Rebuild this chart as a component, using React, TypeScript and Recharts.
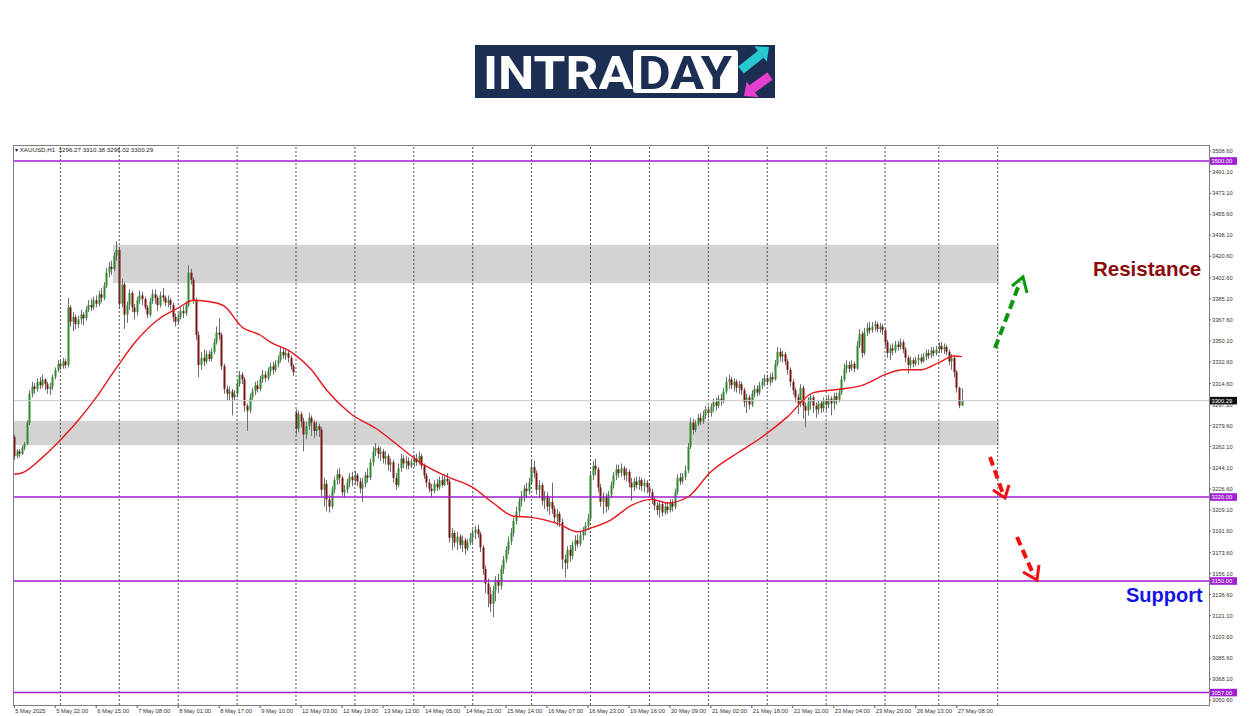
import React from 'react';
import { ComposedChart, Bar, Line, XAxis, YAxis, ReferenceLine, ReferenceArea } from 'recharts';

// XAUUSD H1, 5 May 2025 - 27 May 2025, one row per trading day
const closes = [
  3254, 3258, 3256, 3261, 3264, 3282, 3306, 3312, 3310, 3316, 3313, 3318, 3314, 3310, 3312, 3320, 3326, 3331,
  3329, 3333, 3330, 3378, 3366, 3370, 3364, 3368, 3372, 3369, 3376, 3380, 3378, 3384, 3381, 3389, 3386, 3396, 3407, 3412, 3410, 3421, 3426,
  3381, 3397, 3372, 3380, 3390, 3378, 3374, 3384, 3388, 3385, 3378, 3372, 3383, 3389, 3386, 3380, 3388, 3386, 3382, 3384, 3380, 3370, 3366,
  3370, 3375, 3373, 3380, 3407, 3401, 3384, 3355, 3330, 3336, 3333, 3339, 3335, 3341, 3349, 3357, 3355, 3329, 3310, 3306, 3308, 3303, 3306,
  3314, 3322, 3318, 3296, 3292, 3303, 3308, 3313, 3310, 3318, 3322, 3319, 3325, 3329, 3326, 3331, 3334, 3341, 3338, 3340, 3336, 3329, 3324,
  3277, 3289, 3283, 3272, 3279, 3286, 3282, 3275, 3279, 3276, 3226, 3231, 3218, 3212, 3226, 3234, 3239, 3236, 3224, 3226, 3232, 3237, 3234,
  3238, 3233, 3227, 3231, 3238, 3236, 3249, 3258, 3261, 3256, 3258, 3252, 3254, 3247, 3249, 3236, 3230, 3244, 3252, 3248, 3250, 3246, 3249,
  3252, 3249, 3254, 3246, 3238, 3232, 3227, 3225, 3231, 3228, 3234, 3230, 3235, 3233, 3186, 3190, 3182, 3187, 3180, 3184, 3177, 3182, 3186,
  3190, 3193, 3189, 3178, 3160, 3148, 3139, 3131, 3142, 3151, 3146, 3160, 3168, 3176, 3183, 3190, 3200, 3208, 3217, 3220, 3227, 3225, 3232,
  3245, 3240, 3226, 3230, 3217, 3221, 3212, 3216, 3210, 3203, 3206, 3199, 3168, 3165, 3176, 3171, 3180, 3184, 3181, 3188, 3192, 3196, 3202,
  3238, 3246, 3243, 3228, 3216, 3220, 3212, 3222, 3230, 3238, 3243, 3240, 3244, 3238, 3241, 3232, 3228, 3233, 3230, 3234, 3229, 3232, 3228,
  3224, 3218, 3213, 3209, 3214, 3207, 3212, 3209, 3215, 3212, 3224, 3236, 3233, 3237, 3242, 3262, 3282, 3276, 3281, 3286, 3283, 3288, 3293,
  3290, 3295, 3299, 3296, 3302, 3300, 3308, 3316, 3318, 3313, 3316, 3311, 3314, 3309, 3299, 3303, 3297, 3306, 3310, 3307, 3313, 3316, 3319,
  3316, 3320, 3318, 3331, 3341, 3337, 3339, 3333, 3326, 3316, 3309, 3303, 3298, 3311, 3296, 3292, 3299, 3303, 3296, 3293, 3298, 3294, 3300,
  3297, 3302, 3298, 3304, 3301, 3307, 3318, 3327, 3330, 3327, 3331, 3327, 3346, 3356, 3340, 3357, 3361, 3359, 3362, 3364, 3360, 3362, 3359,
  3349, 3340, 3344, 3342, 3347, 3345, 3349, 3343, 3336, 3330, 3334, 3331, 3334, 3336, 3333, 3337, 3340, 3338, 3342, 3340, 3343,
  3346, 3343, 3345, 3341, 3333, 3336, 3324, 3311, 3296.27, 3300.29,
];

const highs = [
  3272, 3260, 3260, 3263, 3266, 3284, 3309, 3316, 3315, 3319, 3320, 3322, 3319, 3316, 3315, 3322, 3328, 3334,
  3334, 3336, 3335, 3386, 3380, 3374, 3372, 3371, 3376, 3374, 3379, 3384, 3385, 3387, 3388, 3392, 3394, 3399, 3411, 3416, 3417, 3424, 3433,
  3428, 3402, 3399, 3383, 3393, 3392, 3381, 3387, 3392, 3391, 3387, 3380, 3386, 3393, 3393, 3388, 3391, 3394, 3388, 3388, 3386, 3382, 3373,
  3373, 3378, 3379, 3383, 3413, 3410, 3403, 3386, 3358, 3341, 3343, 3342, 3342, 3344, 3352, 3362, 3369, 3357, 3331, 3313, 3312, 3310, 3309,
  3317, 3325, 3324, 3320, 3298, 3306, 3311, 3316, 3317, 3321, 3326, 3325, 3328, 3332, 3333, 3334, 3338, 3345, 3344, 3343, 3342, 3338, 3331,
  3293, 3292, 3291, 3286, 3283, 3290, 3288, 3284, 3283, 3281, 3278, 3236, 3234, 3222, 3229, 3237, 3243, 3244, 3238, 3230, 3235, 3240, 3241,
  3242, 3240, 3236, 3236, 3241, 3244, 3252, 3262, 3265, 3263, 3262, 3260, 3258, 3256, 3252, 3251, 3240, 3248, 3256, 3255, 3254, 3253, 3252,
  3255, 3256, 3258, 3256, 3248, 3240, 3235, 3231, 3234, 3235, 3237, 3238, 3239, 3240, 3235, 3194, 3192, 3191, 3189, 3188, 3186, 3185, 3190,
  3193, 3196, 3197, 3191, 3180, 3163, 3152, 3145, 3146, 3154, 3156, 3163, 3171, 3179, 3187, 3194, 3203, 3212, 3220, 3225, 3230, 3232, 3236,
  3251, 3250, 3242, 3234, 3232, 3225, 3224, 3220, 3232, 3213, 3210, 3208, 3202, 3172, 3179, 3180, 3183, 3188, 3189, 3191, 3195, 3199, 3206,
  3241, 3250, 3252, 3245, 3231, 3224, 3223, 3225, 3233, 3241, 3247, 3247, 3248, 3246, 3244, 3243, 3236, 3236, 3237, 3237, 3236, 3235, 3234,
  3231, 3227, 3221, 3216, 3217, 3216, 3215, 3216, 3218, 3218, 3227, 3239, 3240, 3240, 3246, 3265, 3286, 3285, 3284, 3289, 3290, 3292, 3296,
  3296, 3298, 3302, 3303, 3305, 3306, 3311, 3320, 3322, 3320, 3319, 3318, 3317, 3316, 3311, 3306, 3305, 3309, 3313, 3313, 3316, 3319, 3322,
  3322, 3323, 3324, 3334, 3345, 3344, 3342, 3341, 3335, 3328, 3318, 3311, 3306, 3314, 3313, 3299, 3303, 3306, 3305, 3299, 3301, 3300, 3303,
  3303, 3305, 3304, 3307, 3307, 3310, 3321, 3331, 3334, 3333, 3334, 3333, 3350, 3360, 3358, 3361, 3365, 3366, 3366, 3367, 3366, 3365, 3364,
  3361, 3351, 3347, 3348, 3350, 3350, 3352, 3351, 3345, 3338, 3337, 3336, 3337, 3339, 3339, 3340, 3343, 3343, 3345, 3345, 3346,
  3349, 3349, 3348, 3347, 3343, 3339, 3337, 3326, 3312, 3310.38,
];

const lows = [
  3251, 3252, 3253, 3255, 3259, 3263, 3280, 3303, 3306, 3308, 3310, 3311, 3309, 3306, 3305, 3309, 3318, 3324,
  3326, 3327, 3327, 3328, 3362, 3358, 3360, 3361, 3364, 3363, 3367, 3374, 3375, 3376, 3378, 3379, 3382, 3384, 3394, 3403, 3405, 3408, 3417,
  3377, 3378, 3360, 3365, 3376, 3374, 3368, 3371, 3381, 3380, 3376, 3369, 3370, 3381, 3381, 3375, 3378, 3383, 3379, 3378, 3376, 3366, 3362,
  3364, 3368, 3369, 3371, 3378, 3397, 3381, 3351, 3320, 3326, 3329, 3331, 3333, 3333, 3339, 3347, 3351, 3326, 3306, 3301, 3300, 3288, 3300,
  3303, 3312, 3314, 3291, 3275, 3290, 3300, 3305, 3307, 3308, 3315, 3316, 3317, 3321, 3322, 3324, 3328, 3332, 3335, 3334, 3332, 3326, 3321,
  3272, 3274, 3278, 3258, 3268, 3276, 3271, 3269, 3271, 3270, 3221, 3212, 3208, 3207, 3210, 3223, 3230, 3231, 3221, 3220, 3223, 3228, 3229,
  3230, 3229, 3223, 3216, 3228, 3232, 3234, 3246, 3254, 3252, 3250, 3248, 3247, 3242, 3241, 3232, 3226, 3228, 3241, 3244, 3243, 3243, 3244,
  3245, 3246, 3247, 3243, 3235, 3228, 3224, 3220, 3223, 3225, 3226, 3228, 3229, 3230, 3182, 3176, 3178, 3176, 3177, 3174, 3172, 3175, 3180,
  3181, 3185, 3186, 3174, 3155, 3140, 3128, 3124, 3120, 3133, 3140, 3143, 3156, 3165, 3172, 3180, 3187, 3197, 3204, 3212, 3216, 3219, 3222,
  3230, 3236, 3222, 3219, 3213, 3210, 3208, 3205, 3206, 3198, 3196, 3195, 3160, 3153, 3160, 3166, 3168, 3175, 3178, 3179, 3184, 3188, 3192,
  3203, 3234, 3238, 3224, 3212, 3206, 3207, 3209, 3219, 3227, 3234, 3236, 3237, 3234, 3233, 3228, 3217, 3225, 3227, 3226, 3225, 3224, 3223,
  3220, 3214, 3209, 3205, 3203, 3204, 3205, 3206, 3207, 3208, 3210, 3222, 3230, 3231, 3234, 3240, 3260, 3272, 3274, 3279, 3280, 3281, 3285,
  3286, 3287, 3291, 3292, 3294, 3296, 3298, 3306, 3310, 3310, 3308, 3307, 3306, 3305, 3295, 3290, 3293, 3295, 3303, 3304, 3305, 3310, 3312,
  3313, 3313, 3315, 3317, 3329, 3333, 3332, 3330, 3322, 3312, 3305, 3299, 3289, 3295, 3285, 3278, 3288, 3293, 3290, 3286, 3289, 3290, 3291,
  3292, 3294, 3288, 3293, 3297, 3299, 3305, 3316, 3323, 3324, 3325, 3324, 3326, 3344, 3336, 3338, 3354, 3356, 3357, 3358, 3357, 3357, 3355,
  3345, 3336, 3334, 3338, 3340, 3342, 3343, 3340, 3332, 3323, 3327, 3328, 3329, 3330, 3331, 3332, 3334, 3335, 3336, 3337, 3338,
  3340, 3340, 3339, 3338, 3330, 3326, 3320, 3307, 3294, 3296.02,
];

// opens follow the previous close, except the first bar and the weekend gap
const firstOpen = 3270;
const gapOpens = [[110, 3290], [369, 3311]];

// red moving average as [bar, price]
const maPoints = [
  [0, 3239], [3, 3240], [11, 3253], [18, 3267.5], [25, 3284], [32, 3303], [40, 3328], [48, 3351], [56, 3367.5],
  [64, 3377.5], [70, 3384], [77, 3382.5], [82, 3379], [89, 3361.5], [96, 3355], [100, 3349], [108, 3341], [116, 3326],
  [122, 3309], [131, 3290], [142, 3276], [151, 3261], [159, 3248], [169, 3237], [179, 3228], [187, 3215], [195, 3204],
  [202, 3203], [212, 3198], [220, 3191], [225, 3194], [233, 3201], [241, 3213], [249, 3218], [255, 3215], [263, 3220],
  [272, 3241], [283, 3257.5], [292, 3270], [302, 3287], [312, 3307], [323, 3310], [331, 3313], [340, 3322], [347, 3326],
  [354, 3326], [361, 3332], [367, 3337.5], [370, 3337],
];

const emptySlots = 96;
const dayStarts = [18, 41, 64, 87, 110, 133, 156, 179, 202, 225, 248, 271, 294, 317, 340, 361, 384];

const timeTickBars = [0, 16, 32, 48, 64, 80, 96, 112, 128, 144, 160, 176, 192, 208, 224, 240, 256, 272, 288, 304, 320, 336, 352, 368];
const timeTickLabels = [
  '5 May 2025', '5 May 22:00', '6 May 15:00', '7 May 08:00', '8 May 01:00', '8 May 17:00', '9 May 10:00',
  '12 May 03:00', '12 May 19:00', '13 May 12:00', '14 May 05:00', '14 May 21:00', '15 May 14:00', '16 May 07:00',
  '16 May 23:00', '19 May 16:00', '20 May 09:00', '21 May 02:00', '21 May 18:00', '22 May 11:00', '23 May 04:00',
  '23 May 20:00', '26 May 13:00', '27 May 08:00',
];

const priceTicks = [
  3508.6, 3491.1, 3473.1, 3455.6, 3438.1, 3420.6, 3402.6, 3385.1, 3367.6, 3350.1, 3332.6, 3314.6, 3297.1, 3279.6,
  3262.1, 3244.1, 3226.6, 3209.1, 3191.6, 3173.6, 3156.1, 3138.6, 3121.1, 3103.6, 3085.6, 3068.1, 3050.6,
];

const levels = [3500, 3220, 3150, 3057];
const lastPrice = 3300.29;
const resistanceZone = { from: 39, to: 384, low: 3398.3, high: 3430 };
const supportZone = { from: 0, to: 384, low: 3263.3, high: 3283.3 };

const FONT = '"Liberation Sans", Arial, sans-serif';
const PURPLE = '#a01fd0';

const data = [];
for (let i = 0; i < closes.length + emptySlots; i++) {
  const row: any = { i };
  if (i < closes.length) {
    const gap = gapOpens.find((g) => g[0] === i);
    const o = i === 0 ? firstOpen : gap ? gap[1] : closes[i - 1];
    const c = closes[i];
    const h = Math.max(highs[i], o, c);
    const l = Math.min(lows[i], o, c);
    row.o = o;
    row.c = c;
    row.range = [l, h];
  }
  const m = maPoints.find((p) => p[0] === i);
  if (m) row.ma = m[1];
  data.push(row);
}

const Candle = (props: any) => {
  const { x, y, width, height, payload } = props;
  if (!payload || payload.o == null) return null;
  const [lo, hi] = payload.range;
  const top = Math.min(y, y + height);
  const h = Math.abs(height);
  const k = hi > lo ? h / (hi - lo) : 0;
  const yo = top + (hi - payload.o) * k;
  const yc = top + (hi - payload.c) * k;
  const cx = Math.floor(x + width / 2) + 0.5;
  const up = payload.c >= payload.o;
  const bodyTop = Math.min(yo, yc);
  const bodyH = Math.max(Math.abs(yc - yo), 1);
  return (
    <g>
      <line x1={cx} x2={cx} y1={top} y2={top + h} stroke="#6e6e6e" strokeWidth={1} />
      <rect x={cx - 1} y={bodyTop} width={2} height={bodyH} fill={up ? '#2f8a2f' : '#7a1414'} />
    </g>
  );
};

const TimeTick = (props: any) => {
  const { x, y, payload } = props;
  const k = timeTickBars.indexOf(payload.value);
  if (k < 0) return null;
  return (
    <g>
      <line x1={x} x2={x} y1={y} y2={y + 3} stroke="#555" />
      <text x={x + 1} y={y + 7.5} fontSize={5.8} fill="#333" fontFamily={FONT}>
        {timeTickLabels[k]}
      </text>
    </g>
  );
};

const PriceTag = (props: any) => {
  const { viewBox, text, bg } = props;
  if (!viewBox) return null;
  const x = viewBox.x + viewBox.width;
  const y = viewBox.y;
  return (
    <g>
      <rect x={x + 1} y={y - 3.8} width={27} height={7.6} fill={bg} />
      <text x={x + 2.5} y={y + 2.1} fontSize={5.7} fill="#fff" fontFamily={FONT}>
        {text}
      </text>
    </g>
  );
};

const Logo = () => (
  <svg width={300} height={66} style={{ position: 'absolute', left: 475, top: 38 }}>
    <rect x={0} y={7} width={300} height={53} fill="#1c2e52" />
    <text x={8} y={51} fontSize={47} fontWeight={700} fill="#fff" fontFamily="Roboto, sans-serif" textLength={150} lengthAdjust="spacingAndGlyphs">
      INTRA
    </text>
    <rect x={158} y={12} width={105} height={43} rx={3} fill="#fff" />
    <text x={163} y={51} fontSize={47} fontWeight={700} fill="#1c2e52" fontFamily="Roboto, sans-serif" textLength={94} lengthAdjust="spacingAndGlyphs">
      DAY
    </text>
    <line x1={266} y1={32} x2={286} y2={16} stroke="#27c8cf" strokeWidth={9} />
    <polygon points="294,9 291.8,23.7 279.2,8.3" fill="#27c8cf" />
    <line x1={295} y1={38} x2={277} y2={51} stroke="#e63fd0" strokeWidth={9} />
    <polygon points="269,58 283.8,59.2 271.6,43.4" fill="#e63fd0" />
  </svg>
);

const Arrows = () => (
  <svg width={1250} height={716} style={{ position: 'absolute', left: 0, top: 0, pointerEvents: 'none' }}>
    <line x1={995} y1={348} x2={1020} y2={282} stroke="#0a960a" strokeWidth={4} strokeDasharray="9 5" />
    <polyline points="1012,286 1023,277 1027,293" fill="none" stroke="#0a960a" strokeWidth={3} />
    <line x1={990} y1={457} x2={1003} y2={494} stroke="#f01010" strokeWidth={4} strokeDasharray="9 5" />
    <polyline points="993,490 1005,498 1009,485" fill="none" stroke="#f01010" strokeWidth={3} />
    <line x1={1017} y1={537} x2={1034} y2={576} stroke="#f01010" strokeWidth={4} strokeDasharray="9 5" />
    <polyline points="1023,572 1037,580 1039,565" fill="none" stroke="#f01010" strokeWidth={3} />
  </svg>
);

export default function App() {
  return (
    <div style={{ position: 'absolute', left: 0, top: 0, width: 1250, height: 716, background: '#fff', overflow: 'hidden' }}>
      <Logo />
      <ComposedChart
        width={1250}
        height={716}
        data={data}
        margin={{ top: 145, right: 0, bottom: 0, left: 13 }}
        barCategoryGap={0}
        barGap={0}
      >
        <XAxis
          dataKey="i"
          type="category"
          ticks={timeTickBars}
          interval={0}
          height={11}
          tickSize={0}
          tickMargin={0}
          axisLine={false}
          tick={<TimeTick />}
        />
        <YAxis
          orientation="right"
          type="number"
          width={41}
          domain={[3046.67, 3513.33]}
          allowDataOverflow
          ticks={priceTicks}
          interval={0}
          tickSize={2}
          tickMargin={1}
          axisLine={false}
          tickLine={{ stroke: '#555' }}
          tick={{ fontSize: 5.7, fill: '#333', fontFamily: FONT }}
          tickFormatter={(v: number) => v.toFixed(2)}
        />
        <ReferenceArea
          x1={resistanceZone.from}
          x2={resistanceZone.to}
          y1={resistanceZone.low}
          y2={resistanceZone.high}
          fill="#d3d3d3"
          fillOpacity={1}
          stroke="none"
        />
        <ReferenceArea
          x1={supportZone.from}
          x2={supportZone.to}
          y1={supportZone.low}
          y2={supportZone.high}
          fill="#d3d3d3"
          fillOpacity={1}
          stroke="none"
        />
        {dayStarts.map((d) => (
          <ReferenceLine key={'d' + d} x={d} stroke="#505050" strokeDasharray="2 2" strokeWidth={1} />
        ))}
        <ReferenceLine
          y={lastPrice}
          stroke="#c8c8c8"
          strokeWidth={1}
          label={<PriceTag text={lastPrice.toFixed(2)} bg="#101010" />}
        />
        {levels.map((lv) => (
          <ReferenceLine
            key={'l' + lv}
            y={lv}
            stroke={PURPLE}
            strokeWidth={1.5}
            label={<PriceTag text={lv.toFixed(2)} bg={PURPLE} />}
          />
        ))}
        <Bar dataKey="range" shape={<Candle />} isAnimationActive={false} />
        <Line
          dataKey="ma"
          type="monotone"
          connectNulls
          dot={false}
          stroke="#e8161c"
          strokeWidth={1.4}
          isAnimationActive={false}
        />
      </ComposedChart>
      <div
        style={{
          position: 'absolute',
          left: 13,
          top: 145,
          width: 1197,
          height: 561,
          border: '1px solid #808080',
          boxSizing: 'border-box',
          pointerEvents: 'none',
        }}
      />
      <div style={{ position: 'absolute', left: 15, top: 146, fontSize: 6.2, fontFamily: FONT, color: '#222', whiteSpace: 'pre' }}>
        {'\u25BE XAUUSD,H1  3296.27 3310.38 3296.02 3300.29'}
      </div>
      <Arrows />
      <div style={{ position: 'absolute', left: 1093, top: 257, fontSize: 20.5, fontWeight: 700, fontFamily: FONT, color: '#8b0a0a' }}>
        Resistance
      </div>
      <div style={{ position: 'absolute', left: 1126, top: 584, fontSize: 20, fontWeight: 700, fontFamily: FONT, color: '#1414e6' }}>
        Support
      </div>
    </div>
  );
}
